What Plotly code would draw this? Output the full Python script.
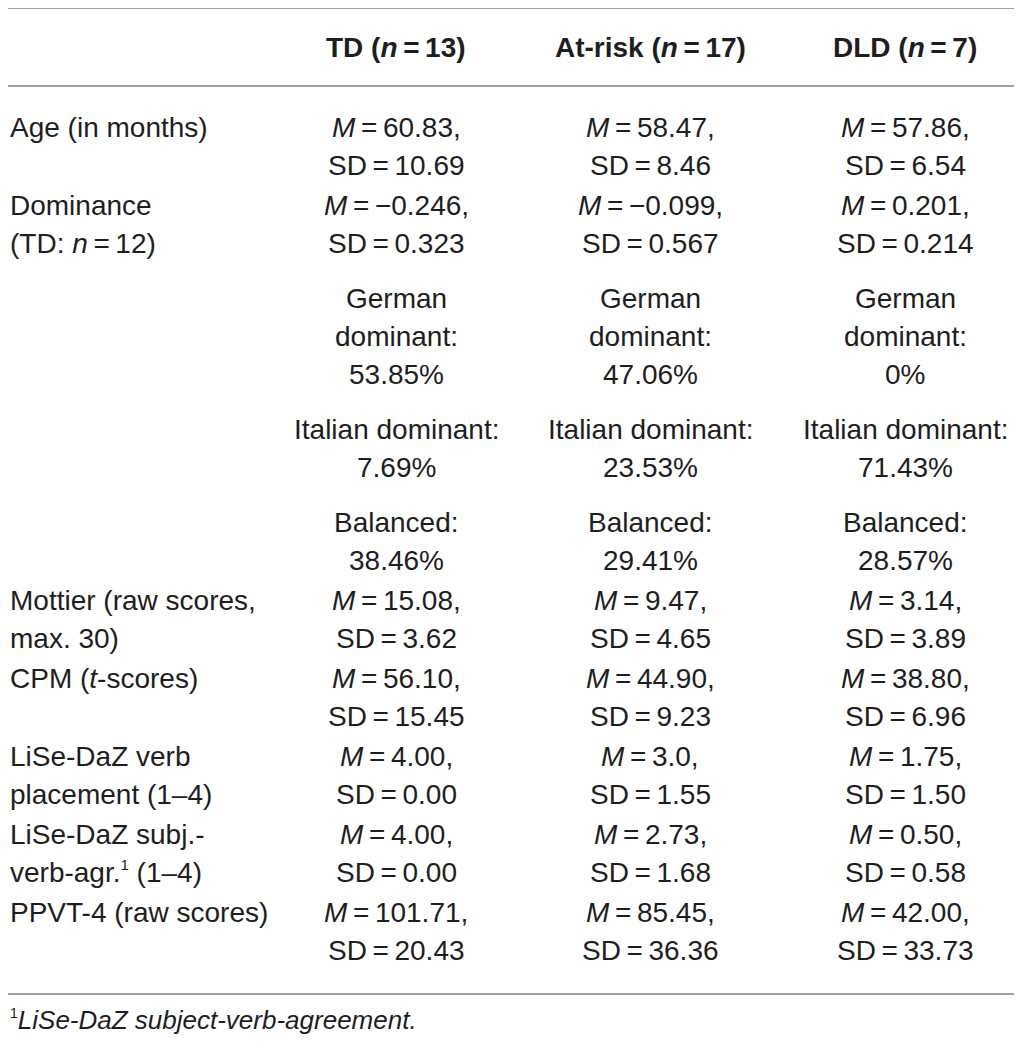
import plotly.graph_objects as go

# groups and sample sizes
groups = ["TD", "At-risk", "DLD"]
group_n = [13, 17, 7]

# row labels
labels = [
    ["Age (in months)"],
    ["Dominance", "(TD: <i>n</i>\u2009=\u200912)"],
    [],
    [],
    [],
    ["Mottier (raw scores,", "max. 30)"],
    ["CPM (<i>t</i>-scores)"],
    ["LiSe-DaZ verb", "placement (1\u20134)"],
    ["LiSe-DaZ subj.-",
     "verb-agr.<sup><span style='font-size:15px'>1</span></sup> (1\u20134)"],
    ["PPVT-4 (raw scores)"],
]

# values per group
age_mean = ["60.83", "58.47", "57.86"]
age_sd = ["10.69", "8.46", "6.54"]
dom_mean = ["\u22120.246", "\u22120.099", "0.201"]
dom_sd = ["0.323", "0.567", "0.214"]
german_pct = ["53.85%", "47.06%", "0%"]
italian_pct = ["7.69%", "23.53%", "71.43%"]
balanced_pct = ["38.46%", "29.41%", "28.57%"]
mottier_mean = ["15.08", "9.47", "3.14"]
mottier_sd = ["3.62", "4.65", "3.89"]
cpm_mean = ["56.10", "44.90", "38.80"]
cpm_sd = ["15.45", "9.23", "6.96"]
verb_mean = ["4.00", "3.0", "1.75"]
verb_sd = ["0.00", "1.55", "1.50"]
agr_mean = ["4.00", "2.73", "0.50"]
agr_sd = ["0.00", "1.68", "0.58"]
ppvt_mean = ["101.71", "85.45", "42.00"]
ppvt_sd = ["20.43", "36.36", "33.73"]

footnote = ("<sup><span style='font-size:14px'>1</span></sup>"
            "<i>LiSe-DaZ subject-verb-agreement.</i>")

EQ = "\u2009=\u2009"


def msd(means, sds):
    return [["<i>M</i>" + EQ + m + ",", "SD" + EQ + s] for m, s in zip(means, sds)]


cells = [
    msd(age_mean, age_sd),
    msd(dom_mean, dom_sd),
    [["German", "dominant:", p] for p in german_pct],
    [["Italian dominant:", p] for p in italian_pct],
    [["Balanced:", p] for p in balanced_pct],
    msd(mottier_mean, mottier_sd),
    msd(cpm_mean, cpm_sd),
    msd(verb_mean, verb_sd),
    msd(agr_mean, agr_sd),
    msd(ppvt_mean, ppvt_sd),
]
# extra space after rows (dominance categories are padded)
gaps = [40, 55, 55, 55, 40, 40, 40, 40, 40, 40]

# page has an 8px body margin, so the axes are set up in window pixels
W, H = 1022, 1046
OFF = 8
col_x = [396, 650, 905]
pitch = 38
font = dict(family="Liberation Sans, Arial, sans-serif", size=28, color="#1e1e1e")
rule = "#a0a0a0"

fig = go.Figure()
ann = []

# header
for x, g, n in zip(col_x, groups, group_n):
    ann.append(dict(x=x, y=47, text="<b>%s (<i>n</i>%s%d)</b>" % (g, EQ, n),
                    xanchor="center"))

y = 127
for lab, row, gap in zip(labels, cells, gaps):
    for i, t in enumerate(lab):
        ann.append(dict(x=OFF, y=y + i * pitch, text=t, xanchor="left"))
    for x, lines in zip(col_x, row):
        for i, t in enumerate(lines):
            ann.append(dict(x=x, y=y + i * pitch, text=t, xanchor="center"))
    nlines = max(len(lab), max(len(c) for c in row))
    y = y + (nlines - 1) * pitch + gap

for a in ann:
    a.update(font=font, yanchor="middle")
# footnote sits right at the bottom edge, anchor it there so it is not clipped
ann.append(dict(x=OFF, y=H - OFF - 1, text=footnote, xanchor="left",
                yanchor="bottom", font=dict(font, size=26)))

for a in ann:
    a.update(xref="x", yref="y", showarrow=False)

shapes = [dict(type="line", xref="x", yref="y", x0=OFF, x1=W - OFF, y0=yy, y1=yy,
               line=dict(color=rule, width=2)) for yy in (4 + OFF / 2, 86, 994)]

fig.update_layout(
    width=W - 2 * OFF, height=H - 2 * OFF,
    margin=dict(l=0, r=0, t=0, b=0),
    paper_bgcolor="white", plot_bgcolor="white",
    xaxis=dict(range=[OFF, W - OFF], visible=False, fixedrange=True),
    yaxis=dict(range=[H - OFF, OFF], visible=False, fixedrange=True),
    annotations=ann, shapes=shapes,
    showlegend=False,
)

fig.write_html("out.html")
